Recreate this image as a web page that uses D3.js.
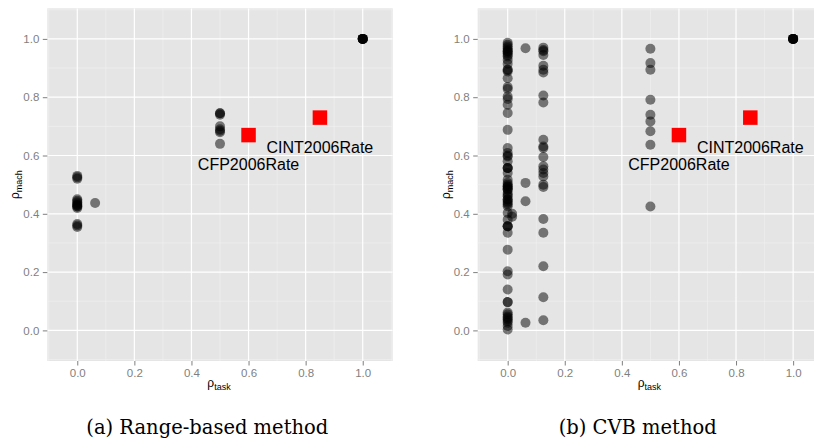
<!DOCTYPE html>
<html>
<head>
<meta charset="utf-8">
<script src="https://cdn.jsdelivr.net/npm/d3@7"></script>
<style>
  body { margin: 0; background: #fff; }
  svg { display: block; }
  .tick-label { font-family: "Liberation Sans", Arial, sans-serif; font-size: 11.5px; fill: #7f7f7f; }
  .axis-title { font-family: "Liberation Sans", Arial, sans-serif; fill: #000; }
  .bench-label { font-family: "Liberation Sans", Arial, sans-serif; font-size: 16px; fill: #000; }
  .caption { font-family: "DejaVu Serif", "Liberation Serif", serif; font-size: 19.5px; fill: #000; }
</style>
</head>
<body>
<div id="chart"></div>
<script>
// rho_mach values, grouped by rho_task column
const rangeAt0 = [0.53, 0.525, 0.52, 0.45, 0.445, 0.44, 0.435, 0.43, 0.43, 0.425, 0.425, 0.42, 0.365, 0.36, 0.355];
const rangeAt0625 = [0.437];
const rangeAt05 = [0.745, 0.745, 0.74, 0.70, 0.69, 0.685, 0.68, 0.64];
const rangeAt1 = [1, 1, 1, 1, 1, 1];

const cvbAt0 = [0.987, 0.980, 0.974, 0.968, 0.962, 0.958, 0.956, 0.951, 0.945, 0.940, 0.928, 0.915, 0.894,
  0.894, 0.888, 0.865, 0.835, 0.828, 0.802, 0.794, 0.774, 0.746, 0.688, 0.626, 0.609, 0.600, 0.597,
  0.580, 0.557, 0.557, 0.557, 0.540, 0.517, 0.506, 0.500, 0.494, 0.494, 0.488, 0.483, 0.483, 0.471,
  0.465, 0.460, 0.449, 0.449, 0.442, 0.437, 0.432, 0.426, 0.403, 0.380, 0.357, 0.357, 0.357, 0.335,
  0.277, 0.203, 0.192, 0.140, 0.097, 0.097, 0.061, 0.055, 0.048, 0.043, 0.038, 0.032, 0.026, 0.015, 0.003];
const cvbAt0156 = [0.40, 0.39];
const cvbAt0625 = [0.968, 0.506, 0.443, 0.026];
const cvbAt0125 = [0.970, 0.962, 0.958, 0.945, 0.908, 0.894, 0.885, 0.806, 0.782, 0.654, 0.631, 0.626,
  0.595, 0.563, 0.552, 0.540, 0.528, 0.500, 0.492, 0.382, 0.335, 0.220, 0.114, 0.035];
const cvbAt05 = [0.966, 0.917, 0.894, 0.791, 0.740, 0.717, 0.683, 0.637, 0.425];
const cvbAt1 = [1, 1, 1, 1, 1, 1];

// SPEC benchmark suites (red squares)
const benchNames = ["CFP2006Rate", "CINT2006Rate"];
const benchTask = [0.6, 0.85];
const benchMach = [0.67, 0.73];

const tickValues = [0, 0.2, 0.4, 0.6, 0.8, 1.0];
const minorValues = [-0.1, 0.1, 0.3, 0.5, 0.7, 0.9, 1.1];
const captions = ["(a) Range-based method", "(b) CVB method"];

class Panel {

  constructor(opts) {
    this.svg = opts.svg;
    this.id = opts.id;
    this.left = opts.left;
    this.points = opts.points;
    this.caption = opts.caption;

    this.draw();
  }

  draw() {
    this.top = 8.3;
    this.innerWidth = 345.4;
    this.innerHeight = 352.7;

    this.plot = this.svg.append('g')
      .attr('transform', `translate(${this.left},${this.top})`);

    this.createScales();
    this.addGrid();
    this.addAxes();
    this.addPoints();
    this.addBenchmarks();
    this.addTitles();
  }

  createScales() {
    this.xScale = d3.scaleLinear()
      .domain([-0.105, 1.105])
      .range([0, this.innerWidth]);

    this.yScale = d3.scaleLinear()
      .domain([-0.105, 1.105])
      .range([this.innerHeight, 0]);
  }

  addGrid() {
    this.plot.append('clipPath')
      .attr('id', `clip-${this.id}`)
      .append('rect')
      .attr('width', this.innerWidth)
      .attr('height', this.innerHeight);

    this.plot.append('rect')
      .attr('width', this.innerWidth)
      .attr('height', this.innerHeight)
      .attr('fill', '#e5e5e5');

    const grid = this.plot.append('g').attr('clip-path', `url(#clip-${this.id})`);

    // minor lines first, majors on top
    grid.selectAll('line.minor-x').data(minorValues).enter().append('line')
      .attr('x1', d => this.xScale(d)).attr('x2', d => this.xScale(d))
      .attr('y1', 0).attr('y2', this.innerHeight)
      .attr('stroke', '#f2f2f2').attr('stroke-width', 0.6);

    grid.selectAll('line.minor-y').data(minorValues).enter().append('line')
      .attr('y1', d => this.yScale(d)).attr('y2', d => this.yScale(d))
      .attr('x1', 0).attr('x2', this.innerWidth)
      .attr('stroke', '#f2f2f2').attr('stroke-width', 0.6);

    grid.selectAll('line.major-x').data(tickValues).enter().append('line')
      .attr('x1', d => this.xScale(d)).attr('x2', d => this.xScale(d))
      .attr('y1', 0).attr('y2', this.innerHeight)
      .attr('stroke', '#fff').attr('stroke-width', 1.2);

    grid.selectAll('line.major-y').data(tickValues).enter().append('line')
      .attr('y1', d => this.yScale(d)).attr('y2', d => this.yScale(d))
      .attr('x1', 0).attr('x2', this.innerWidth)
      .attr('stroke', '#fff').attr('stroke-width', 1.2);
  }

  addAxes() {
    const fmt = d3.format('.1f');

    const xAxis = this.plot.append('g')
      .attr('transform', `translate(0,${this.innerHeight})`)
      .call(d3.axisBottom(this.xScale).tickValues(tickValues).tickFormat(fmt).tickSize(4.5).tickPadding(3));

    const yAxis = this.plot.append('g')
      .call(d3.axisLeft(this.yScale).tickValues(tickValues).tickFormat(fmt).tickSize(4.5).tickPadding(3.5));

    [xAxis, yAxis].forEach(ax => {
      ax.select('.domain').remove();
      ax.selectAll('.tick line').attr('stroke', '#7f7f7f');
      ax.selectAll('.tick text')
        .attr('class', 'tick-label')
        .attr('fill', null);
      ax.attr('font-family', null).attr('font-size', null);
    });
  }

  addPoints() {
    this.plot.append('g')
      .attr('clip-path', `url(#clip-${this.id})`)
      .selectAll('circle')
      .data(this.points)
      .enter().append('circle')
      .attr('cx', d => this.xScale(d.task))
      .attr('cy', d => this.yScale(d.mach))
      .attr('r', 5)
      .attr('fill', '#000')
      .attr('fill-opacity', 0.5);
  }

  addBenchmarks() {
    const side = 14.5;
    const bench = benchNames.map((name, i) => ({ name: name, task: benchTask[i], mach: benchMach[i] }));

    this.plot.append('g').selectAll('rect')
      .data(bench)
      .enter().append('rect')
      .attr('x', d => this.xScale(d.task) - side / 2)
      .attr('y', d => this.yScale(d.mach) - side / 2)
      .attr('width', side)
      .attr('height', side)
      .attr('fill', '#ff0000');

    this.plot.append('g').selectAll('text')
      .data(bench)
      .enter().append('text')
      .attr('class', 'bench-label')
      .attr('x', d => this.xScale(d.task))
      .attr('y', d => this.yScale(d.mach - 0.1))
      .attr('dy', '0.36em')
      .attr('text-anchor', 'middle')
      .text(d => d.name);
  }

  addTitles() {
    // x-axis title: rho with subscript "task"
    const xt = this.plot.append('text')
      .attr('class', 'axis-title')
      .attr('x', this.innerWidth / 2 - 1)
      .attr('y', this.innerHeight + 26.5)
      .attr('text-anchor', 'middle');
    xt.append('tspan').attr('font-size', 12).text('\u03c1');
    xt.append('tspan').attr('font-size', 9).attr('dy', 3).text('task');

    // y-axis title: rho with subscript "mach"
    const yt = this.plot.append('text')
      .attr('class', 'axis-title')
      .attr('transform', `translate(-28,${this.innerHeight / 2}) rotate(-90)`)
      .attr('text-anchor', 'middle');
    yt.append('tspan').attr('font-size', 12).text('\u03c1');
    yt.append('tspan').attr('font-size', 9).attr('dy', 3).text('mach');

    // subfigure caption
    this.svg.append('text')
      .attr('class', 'caption')
      .attr('x', this.left + 160)
      .attr('y', 434)
      .attr('text-anchor', 'middle')
      .text(this.caption);
  }

}

function toPoints(columns) {
  return columns.flatMap(([task, values]) => values.map(v => ({ task: task, mach: v })));
}

const svg = d3.select('#chart').append('svg')
  .attr('width', 814)
  .attr('height', 441);

new Panel({
  svg: svg,
  id: 'range',
  left: 47.3,
  caption: captions[0],
  points: toPoints([[0, rangeAt0], [0.0625, rangeAt0625], [0.5, rangeAt05], [1, rangeAt1]])
});

new Panel({
  svg: svg,
  id: 'cvb',
  left: 477.7,
  caption: captions[1],
  points: toPoints([[0, cvbAt0], [0.0156, cvbAt0156], [0.0625, cvbAt0625], [0.125, cvbAt0125], [0.5, cvbAt05], [1, cvbAt1]])
});
</script>
</body>
</html>
